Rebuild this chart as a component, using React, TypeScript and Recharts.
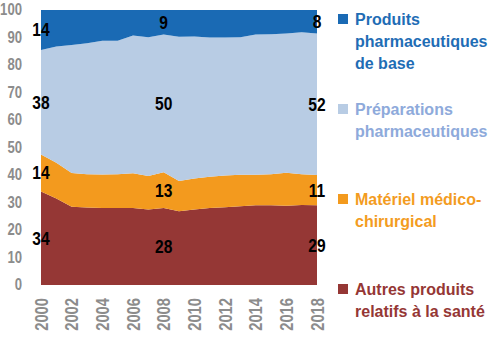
import { ComposedChart, Area, Line, XAxis, YAxis, LabelList } from "recharts"

const YEARS = [2000, 2001, 2002, 2003, 2004, 2005, 2006, 2007, 2008, 2009, 2010, 2011, 2012, 2013, 2014, 2015, 2016, 2017, 2018]

// parts en %, de bas en haut
const AUTRES = [34, 31.5, 28.5, 28.2, 28, 28, 28, 27.5, 28, 26.8, 27.5, 28, 28.3, 28.6, 29, 29, 28.8, 29.1, 29]
const MATERIEL = [13.5, 13, 12.2, 12.1, 12.2, 12.3, 12.6, 12.1, 13, 11, 11.2, 11.4, 11.5, 11.5, 11.1, 11.3, 12, 11.2, 11]
const PREPARATIONS = [38, 42.2, 46.6, 47.6, 48.6, 48.5, 50.1, 50.5, 50.1, 52.5, 51.7, 50.6, 50.2, 50, 51, 50.9, 50.7, 51.6, 51.5]
const BASE = [14.5, 13.3, 12.7, 12.1, 11.2, 11.2, 9.3, 9.9, 8.9, 9.7, 9.6, 10, 10, 9.9, 8.9, 8.8, 8.5, 8.1, 8.5]

// étiquettes affichées dans les bandes
const LABEL_YEARS = [2000, 2008, 2018]
const LABEL_AUTRES = [34, 28, 29]
const LABEL_MATERIEL = [14, 13, 11]
const LABEL_PREPARATIONS = [38, 50, 52]
const LABEL_BASE = [14, 9, 8]

const X_TICKS = [2000, 2002, 2004, 2006, 2008, 2010, 2012, 2014, 2016, 2018]
const Y_TICKS = [0, 10, 20, 30, 40, 50, 60, 70, 80, 90, 100]

const SANS = "'Liberation Sans', Arial, sans-serif"
// pas de police "narrow" installée : on comprime horizontalement
const NARROW_SCALE = 0.82

const SERIES = [
  { key: "base", name: ["Produits", "pharmaceutiques", "de base"], fill: "#1a6ab4", text: "#1f6db5" },
  { key: "prep", name: ["Préparations", "pharmaceutiques"], fill: "#b8cce4", text: "#8eaadb" },
  { key: "mat", name: ["Matériel médico-", "chirurgical"], fill: "#f39a1e", text: "#f39c1f" },
  { key: "autres", name: ["Autres produits", "relatifs à la santé"], fill: "#953735", text: "#953735" },
]

const labelAt = (labels: number[], year: number) => {
  const i = LABEL_YEARS.indexOf(year)
  return i >= 0 ? labels[i] : null
}

const data = YEARS.map((year, i) => {
  const a = AUTRES[i]
  const m = MATERIEL[i]
  const p = PREPARATIONS[i]
  const b = BASE[i]
  return {
    year,
    autres: a,
    mat: m,
    prep: p,
    base: b,
    midAutres: a / 2,
    midMat: a + m / 2,
    midPrep: a + m + p / 2,
    midBase: a + m + p + b / 2,
    lblAutres: labelAt(LABEL_AUTRES, year),
    lblMat: labelAt(LABEL_MATERIEL, year),
    lblPrep: labelAt(LABEL_PREPARATIONS, year),
    lblBase: labelAt(LABEL_BASE, year),
  }
})

const BandLabel = (props: any) => {
  const { x, y, value } = props
  if (value == null || x == null || y == null) return null
  return (
    <text transform={`translate(${x} ${y}) scale(${NARROW_SCALE} 1)`} textAnchor="middle" dominantBaseline="central" fill="#000" fontSize={19} fontWeight="bold" fontFamily={SANS}>
      {value}
    </text>
  )
}

const XTick = ({ x, y, payload }: any) => (
  <text transform={`translate(${x} ${y}) rotate(-90) scale(${NARROW_SCALE} 1)`} textAnchor="end" dominantBaseline="central" fill="#8c8c8c" fontSize={18} fontWeight="bold" fontFamily={SANS}>
    {payload.value}
  </text>
)

const YTick = ({ x, y, payload }: any) => (
  <text transform={`translate(${x} ${y}) scale(${NARROW_SCALE} 1)`} textAnchor="end" dominantBaseline="central" fill="#8c8c8c" fontSize={16} fontWeight="bold" fontFamily={SANS}>
    {payload.value}
  </text>
)

const SideLegend = () => (
  <div style={{ position: "absolute", left: 338, top: 8.5, fontFamily: SANS, fontWeight: "bold", fontSize: 16, lineHeight: "22px" }}>
    {SERIES.map((s) => (
      <div key={s.key} style={{ position: "relative", height: 90, paddingLeft: 17, color: s.text, whiteSpace: "nowrap" }}>
        <span style={{ position: "absolute", left: 0, top: 5, width: 10, height: 10, background: s.fill }} />
        {s.name.map((line, i) => (
          <div key={i}>{line}</div>
        ))}
      </div>
    ))}
  </div>
)

export default function App() {
  return (
    <div style={{ position: "absolute", left: 0, top: 0, width: 500, height: 351, background: "#fff" }}>
      <ComposedChart width={500} height={351} data={data} margin={{ top: 10, right: 183, bottom: 0, left: 0 }}>
        <XAxis
          dataKey="year"
          type="number"
          domain={[2000, 2018]}
          ticks={X_TICKS}
          interval={0}
          axisLine={false}
          tickLine={false}
          tickSize={0}
          tickMargin={13}
          height={66}
          tick={<XTick />}
        />
        <YAxis
          domain={[0, 100]}
          ticks={Y_TICKS}
          interval={0}
          axisLine={false}
          tickLine={false}
          tickSize={0}
          tickMargin={19}
          width={41}
          tick={<YTick />}
        />
        <Area type="linear" dataKey="autres" stackId="s" stroke="none" fill="#953735" fillOpacity={1} isAnimationActive={false} />
        <Area type="linear" dataKey="mat" stackId="s" stroke="none" fill="#f39a1e" fillOpacity={1} isAnimationActive={false} />
        <Area type="linear" dataKey="prep" stackId="s" stroke="none" fill="#b8cce4" fillOpacity={1} isAnimationActive={false} />
        <Area type="linear" dataKey="base" stackId="s" stroke="none" fill="#1a6ab4" fillOpacity={1} isAnimationActive={false} />
        <Line dataKey="midAutres" stroke="none" dot={false} activeDot={false} legendType="none" isAnimationActive={false}>
          <LabelList dataKey="lblAutres" content={<BandLabel />} />
        </Line>
        <Line dataKey="midMat" stroke="none" dot={false} activeDot={false} legendType="none" isAnimationActive={false}>
          <LabelList dataKey="lblMat" content={<BandLabel />} />
        </Line>
        <Line dataKey="midPrep" stroke="none" dot={false} activeDot={false} legendType="none" isAnimationActive={false}>
          <LabelList dataKey="lblPrep" content={<BandLabel />} />
        </Line>
        <Line dataKey="midBase" stroke="none" dot={false} activeDot={false} legendType="none" isAnimationActive={false}>
          <LabelList dataKey="lblBase" content={<BandLabel />} />
        </Line>
      </ComposedChart>
      <SideLegend />
    </div>
  )
}
